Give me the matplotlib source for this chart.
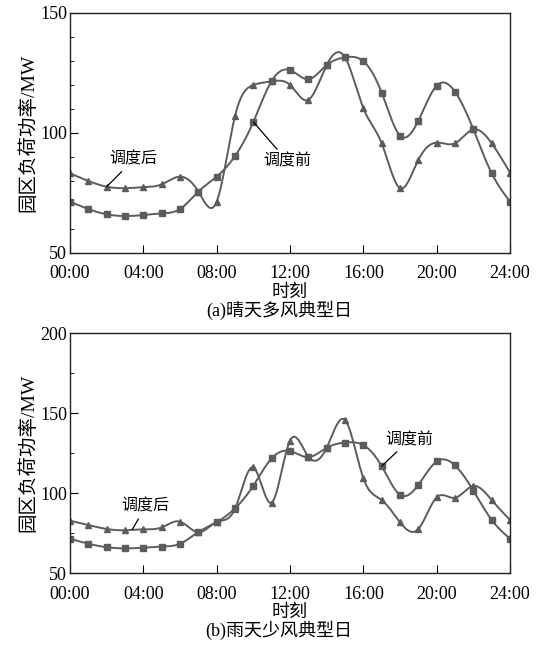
import numpy as np
import matplotlib
matplotlib.use('Agg')
from matplotlib import pyplot as plt
from matplotlib.ticker import MultipleLocator

plt.rcParams['font.family'] = ['Liberation Serif', 'Noto Sans CJK SC']
plt.rcParams['axes.unicode_minus'] = False

hours = np.arange(25)
tick_hours = [0, 4, 8, 12, 16, 20, 24]
tick_labels = ['00:00', '04:00', '08:00', '12:00', '16:00', '20:00', '24:00']

# 调度前 (same in both panels)
before = [71.4, 68.3, 66.1, 65.4, 65.8, 66.5, 68.3, 75.6, 81.8, 90.4, 104.6, 121.7, 126.2,
          122.4, 128.3, 131.5, 129.9, 116.8, 98.9, 105.1, 119.7, 117.2, 101.5, 83.2, 71.4]
# 调度后, (a) sunny & windy
after_a = [83.2, 80.0, 77.6, 77.0, 77.4, 78.6, 81.8, 75.6, 71.4, 107.1, 120.0, 121.5, 120.0,
           113.8, 128.3, 131.5, 110.3, 95.7, 77.0, 88.8, 96.0, 95.7, 101.5, 95.7, 83.5]
# 调度后, (b) rainy & little wind
after_b = [82.7, 80.0, 77.5, 76.7, 77.3, 78.5, 82.1, 75.4, 81.9, 90.2, 116.0, 94.0, 132.7,
           122.7, 128.3, 145.6, 109.2, 95.6, 81.7, 77.5, 97.3, 97.0, 104.4, 95.6, 83.1]

color = '#5c5c5c'


def spline(x, y, n=600):
    # natural cubic spline, just for drawing a smooth line through the points
    x = np.asarray(x, float)
    y = np.asarray(y, float)
    h = np.diff(x)
    m = len(x)
    A = np.zeros((m, m))
    r = np.zeros(m)
    A[0, 0] = A[-1, -1] = 1.0
    for i in range(1, m - 1):
        A[i, i - 1] = h[i - 1]
        A[i, i] = 2 * (h[i - 1] + h[i])
        A[i, i + 1] = h[i]
        r[i] = 6 * ((y[i + 1] - y[i]) / h[i] - (y[i] - y[i - 1]) / h[i - 1])
    M = np.linalg.solve(A, r)
    xs = np.linspace(x[0], x[-1], n)
    k = np.clip(np.searchsorted(x, xs) - 1, 0, m - 2)
    t = xs - x[k]
    hk = h[k]
    a = (M[k + 1] - M[k]) / (6 * hk)
    b = M[k] / 2
    c = (y[k + 1] - y[k]) / hk - hk * (2 * M[k] + M[k + 1]) / 6
    ys = y[k] + c * t + b * t ** 2 + a * t ** 3
    return xs, ys


fig = plt.figure(figsize=(5.42, 6.49), dpi=100)
ax1 = fig.add_axes([0.1292, 0.6102, 0.8118, 0.3698])
ax2 = fig.add_axes([0.1292, 0.1171, 0.8118, 0.3698])


def draw(ax, after, ylim, major, minor):
    for vals, mk, ms in [(before, 's', 5), (after, '^', 5)]:
        xs, ys = spline(hours, vals)
        ax.plot(xs, ys, color=color, lw=1.4)
        ax.plot(hours, vals, ls='none', marker=mk, ms=ms, color=color)
    ax.set_xlim(0, 24)
    ax.set_ylim(*ylim)
    ax.set_xticks(tick_hours)
    ax.set_xticklabels(tick_labels)
    ax.yaxis.set_major_locator(MultipleLocator(major))
    ax.yaxis.set_minor_locator(MultipleLocator(minor))
    ax.tick_params(axis='both', which='both', direction='in', labelsize=13)
    ax.tick_params(axis='x', which='major', length=6, pad=9)
    ax.tick_params(axis='y', which='major', length=6, pad=2)
    ax.tick_params(axis='y', which='minor', length=3)
    for s in ax.spines.values():
        s.set_linewidth(1.0)
        s.set_color('#222222')
    ax.set_xlabel('时刻', fontsize=13, labelpad=1)
    ax.set_ylabel('园区负荷功率/MW', fontsize=14, labelpad=2)


draw(ax1, after_a, (50, 150), 50, 10)
draw(ax2, after_b, (50, 200), 50, 25)

arrow = dict(arrowstyle='-', color='black', lw=0.9, shrinkA=1, shrinkB=0)
ax1.annotate('调度后', xy=(2, after_a[2]), xytext=(3.45, 88.8), fontsize=11.5,
             ha='center', va='center', arrowprops=arrow)
ax1.annotate('调度前', xy=(10, before[10]), xytext=(11.85, 88.3), fontsize=11.5,
             ha='center', va='center', arrowprops=arrow)
ax2.annotate('调度后', xy=(3.4, 77.2), xytext=(4.1, 91.3), fontsize=11.5,
             ha='center', va='center', arrowprops=arrow)
ax2.annotate('调度前', xy=(17, before[17]), xytext=(18.5, 133.1), fontsize=11.5,
             ha='center', va='center', arrowprops=arrow)

fig.text(0.515, 0.522, '(a)晴天多风典型日', fontsize=13, ha='center', va='center')
fig.text(0.515, 0.029, '(b)雨天少风典型日', fontsize=13, ha='center', va='center')

fig.savefig('out.png', dpi=100)
